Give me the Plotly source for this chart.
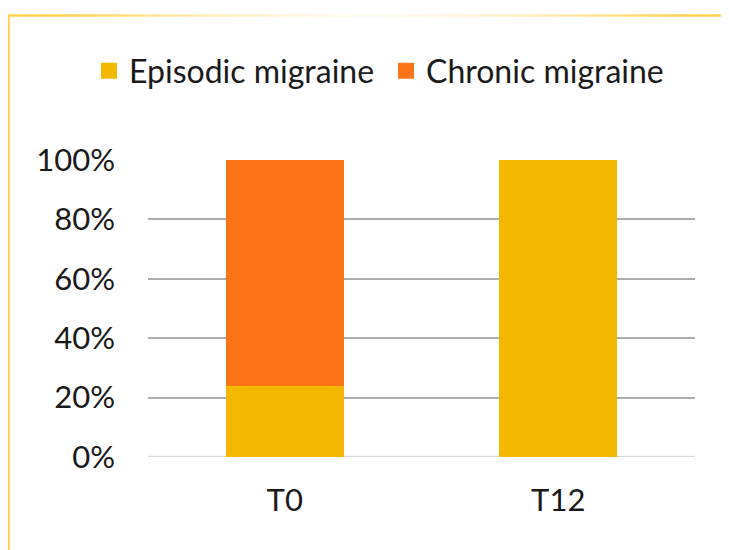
import plotly.graph_objects as go

categories = ["T0", "T12"]
episodic = [24, 100]
chronic = [76, 0]
series_names = ["Episodic migraine", "Chronic migraine"]
series_colors = ["#F5B800", "#FC7418"]
tick_vals = [0, 20, 40, 60, 80, 100]
tick_text = ["0%", "20%", "40%", "60%", "80%", "100%"]

W, H = 729, 550
OFF = 8  # page body margin offset
L, R, T, B = 148 - OFF, 34 + OFF, 160 - OFF, 93 + OFF
pw, ph = W - L - R, H - T - B

def px_x(x):
    return (x - OFF - L) / pw

def px_y(y):
    return (H - B - (y - OFF)) / ph

fig = go.Figure()
for vals, name, col in [(episodic, series_names[0], series_colors[0]),
                        (chronic, series_names[1], series_colors[1])]:
    fig.add_trace(go.Bar(x=categories, y=vals, name=name, showlegend=False,
                         marker=dict(color=col, line=dict(width=0)), width=0.43))
# legend proxies
for name, col in zip(series_names, series_colors):
    fig.add_trace(go.Scatter(x=[None], y=[None], mode="markers", name=name,
                             marker=dict(symbol="square", size=16, color=col)))

shapes = []
shapes.append(dict(type="line", xref="paper", yref="paper",
                   x0=px_x(8.5), x1=px_x(8.5), y0=px_y(15), y1=px_y(570),
                   line=dict(color="#FFD04A", width=2.5)))
n = 48
x_start, x_end = 8, 740
for i in range(n):
    xa = x_start + (x_end - x_start) * i / n
    xb = x_start + (x_end - x_start) * (i + 1) / n
    t = (i + 0.5) / n
    f = min(1.0, abs(t - 0.5) * 2.3)
    f = f ** 1.6
    g = int(250 - (250 - 208) * f)
    b = int(238 - (238 - 74) * f)
    shapes.append(dict(type="line", xref="paper", yref="paper",
                       x0=px_x(xa), x1=px_x(xb), y0=px_y(15.5), y1=px_y(15.5),
                       line=dict(color=f"rgb(255,{g},{b})", width=2.5)))
shapes.append(dict(type="line", xref="paper", yref="y", x0=0, x1=1, y0=0, y1=0,
                   line=dict(color="#D9D9D9", width=2.5), layer="below"))

fig.update_layout(
    width=W, height=H,
    margin=dict(l=L, r=R, t=T, b=B),
    barmode="stack",
    plot_bgcolor="white", paper_bgcolor="white",
    font=dict(family="Lato, Carlito, sans-serif", size=31, color="#1a1a1a"),
    legend=dict(orientation="h", x=px_x(89), y=px_y(71), xanchor="left", yanchor="middle",
                font=dict(size=32), traceorder="normal", itemwidth=30,
                entrywidth=252),
    showlegend=True,
    shapes=shapes,
    xaxis=dict(showgrid=False, showline=False, zeroline=False, ticks="",
               ticklabelstandoff=22, tickfont=dict(size=31)),
    yaxis=dict(range=[0, 100], tickvals=tick_vals, ticktext=tick_text,
               showgrid=True, gridcolor="#ADADAD", gridwidth=2,
               zeroline=False, showline=False, ticks="",
               ticklabelstandoff=32, tickfont=dict(size=31)),
)

fig.write_html("out.html")
